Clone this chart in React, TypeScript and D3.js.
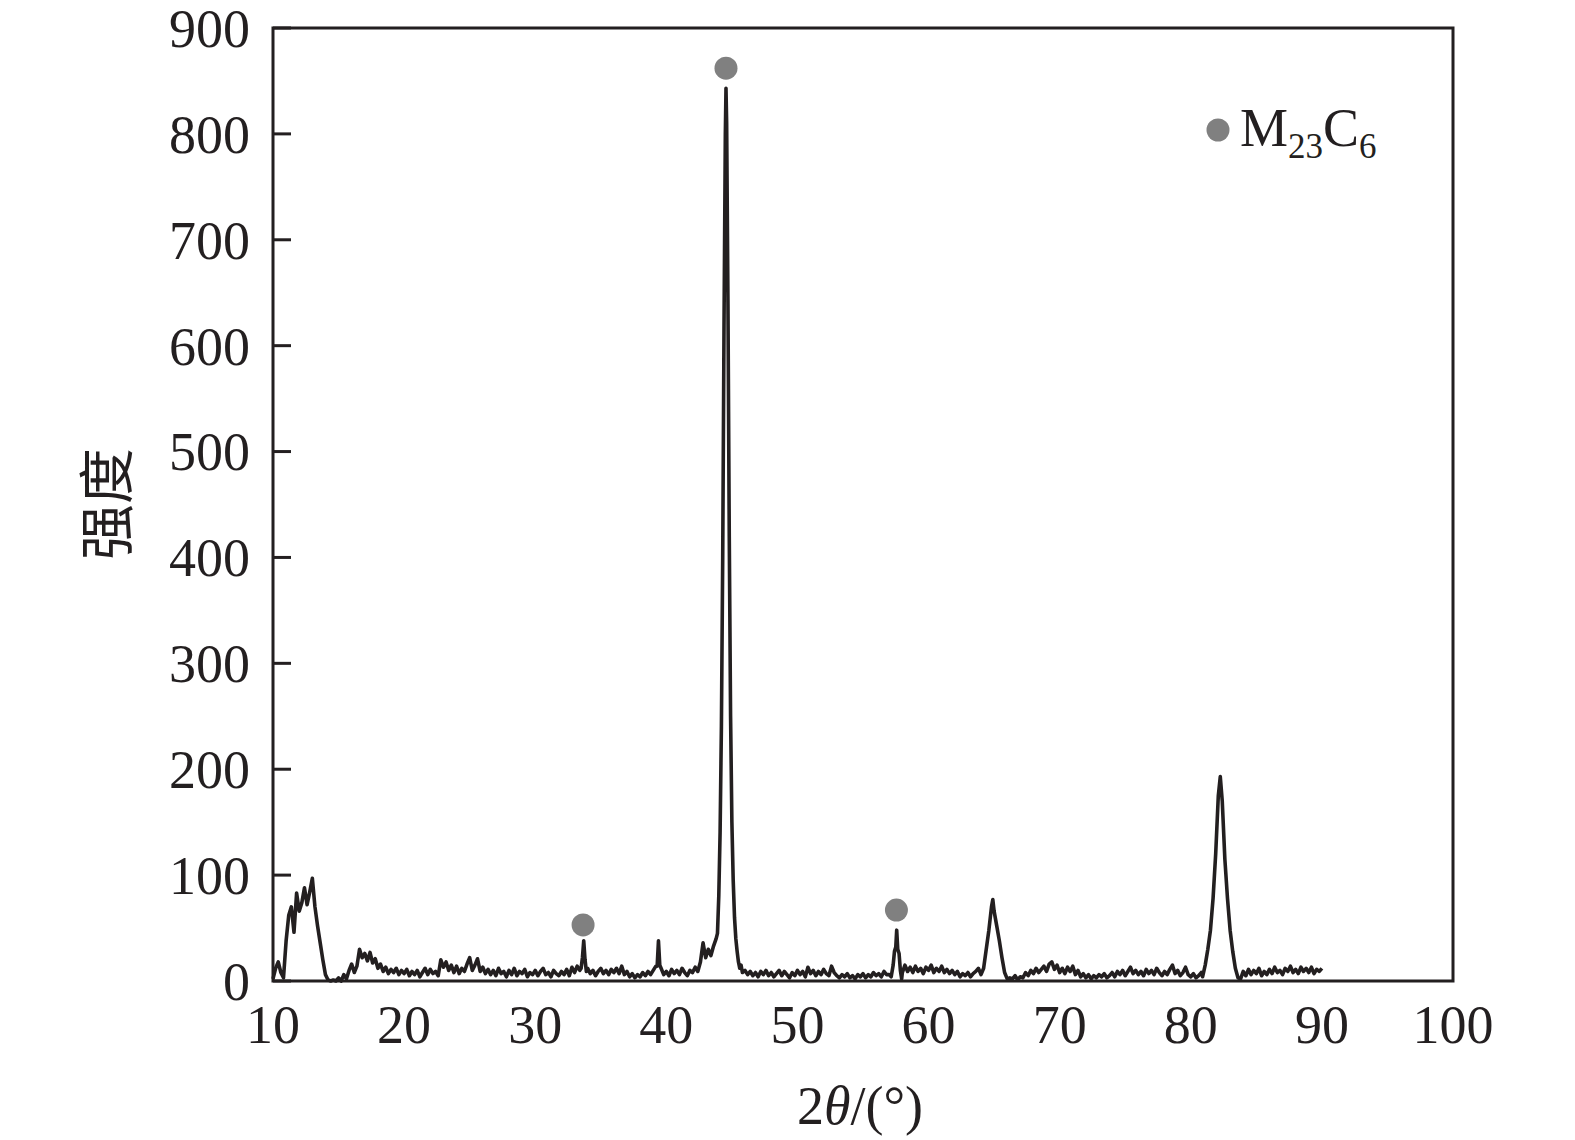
import React from "react";
import * as d3 from "d3";

// Baseline pattern sampled every 0.2° from 10.0° to 90.0°
const baseStart = 10;
const baseStep = 0.2;
const baseIntensity: number[] = [
  2, 12, 18, 8, 3, // 10
  38, 62, 70, 46, 83, // 11
  66, 74, 88, 72, 84, // 12
  97, 70, 52, 36, 20, // 13
  6, 1, 0, 1, 0, // 14
  3, 0, 6, 2, 10, // 15
  16, 8, 14, 30, 22, // 16
  26, 19, 27, 17, 21, // 17
  12, 16, 9, 13, 7, // 18
  11, 8, 12, 6, 10, // 19
  7, 11, 5, 9, 6, // 20
  10, 4, 8, 12, 6, // 21
  11, 7, 9, 5, 20, // 22
  13, 18, 10, 15, 8, // 23
  14, 7, 12, 9, 16, // 24
  22, 10, 15, 21, 9, // 25
  13, 7, 11, 6, 10, // 26
  5, 12, 7, 9, 4, // 27
  10, 6, 12, 5, 9, // 28
  7, 11, 4, 8, 6, // 29
  10, 5, 9, 12, 6, // 30
  8, 4, 10, 7, 5, // 31
  9, 6, 11, 5, 13, // 32
  8, 14, 10, 30, 20, // 33
  12, 7, 10, 5, 9, // 34
  12, 7, 10, 6, 11, // 35
  8, 12, 7, 14, 6, // 36
  9, 4, 7, 3, 6, // 37
  4, 8, 5, 9, 6, // 38
  10, 14, 38, 12, 6, // 39
  9, 5, 11, 7, 10, // 40
  6, 12, 8, 5, 10, // 41
  8, 13, 9, 18, 36, // 42
  22, 30, 24, 33, 40, // 43
  80, 400, 843, 240, 95, // 44 (replaced by detail)
  60, 28, 12, 8, 8, // 45 (replaced by detail)
  10, 6, 9, 5, 8, // 46
  4, 9, 6, 10, 5, // 47
  8, 4, 7, 10, 5, // 48
  9, 6, 3, 8, 5, // 49
  10, 6, 9, 4, 13, // 50
  7, 10, 5, 9, 6, // 51
  11, 7, 5, 14, 8, // 52
  5, 3, 6, 4, 7, // 53
  3, 5, 2, 6, 4, // 54
  7, 3, 6, 4, 8, // 55
  5, 7, 4, 9, 6, // 56
  6, 14, 28, 48, 26, // 57 (replaced by detail)
  8, 15, 9, 13, 8, // 58
  14, 9, 12, 7, 13, // 59
  10, 15, 8, 12, 9, // 60
  14, 8, 11, 7, 10, // 61
  6, 9, 4, 7, 5, // 62
  8, 4, 7, 9, 12, // 63
  6, 12, 30, 48, 70, // 64 (replaced by detail)
  66, 52, 38, 22, 8, // 65 (replaced by detail)
  2, 3, 2, 5, 1, // 66
  4, 3, 8, 5, 10, // 67
  7, 12, 8, 11, 14, // 68
  9, 16, 18, 11, 15, // 69
  8, 12, 7, 13, 9, // 70
  14, 6, 10, 4, 7, // 71
  3, 6, 2, 5, 3, // 72
  6, 4, 7, 3, 5, // 73
  8, 4, 9, 6, 10, // 74
  5, 9, 13, 7, 10, // 75
  6, 9, 5, 11, 7, // 76
  10, 6, 12, 8, 5, // 77
  9, 6, 11, 15, 7, // 78
  10, 5, 8, 13, 6, // 79
  4, 7, 3, 5, 8, // 80
  10, 30, 48, 78, 120, // 81 (replaced by detail)
  175, 193, 170, 115, 78, // 82 (replaced by detail)
  48, 28, 12, 3, 2, // 83
  9, 5, 11, 6, 10, // 84
  7, 12, 5, 9, 6, // 85
  11, 7, 13, 8, 10, // 86
  6, 12, 9, 14, 8, // 87
  11, 7, 13, 9, 12, // 88
  8, 13, 7, 11, 9, // 89
  12, // 90
];

// Finer detail around the diffraction peaks: [2θ, intensity]
const peak33: [number, number][] = [[33.5, 12], [33.6, 22], [33.7, 38], [33.8, 20], [33.9, 9]];
const peak39: [number, number][] = [[39.3, 14], [39.4, 38], [39.5, 15]];
const peak44: [number, number][] = [
  [43.9, 45], [44.0, 80], [44.1, 140], [44.2, 240], [44.3, 400], [44.4, 620], [44.5, 800],
  [44.55, 843], [44.6, 810], [44.7, 640], [44.8, 420], [44.9, 250], [45.0, 150], [45.1, 95],
  [45.2, 60], [45.3, 40], [45.4, 28], [45.5, 18], [45.6, 12], [45.7, 15], [45.8, 8],
];
const peak57: [number, number][] = [
  [57.0, 6], [57.15, 4], [57.3, 15], [57.4, 28], [57.5, 32], [57.57, 48], [57.65, 30],
  [57.75, 26], [57.85, 10], [57.95, 2],
];
const peak65: [number, number][] = [
  [64.0, 6], [64.2, 12], [64.4, 30], [64.6, 48], [64.8, 70], [64.9, 77], [65.0, 66],
  [65.2, 52], [65.4, 38], [65.6, 22], [65.8, 8], [66.0, 2],
];
const peak82: [number, number][] = [
  [80.9, 4], [81.1, 15], [81.3, 30], [81.5, 48], [81.7, 78], [81.9, 120], [82.1, 175],
  [82.25, 193], [82.4, 170], [82.6, 115], [82.8, 78], [83.0, 48], [83.2, 28], [83.4, 12], [83.6, 3],
];
const peakDetails = [peak33, peak39, peak44, peak57, peak65, peak82];

// M23C6 markers [2θ, intensity position]
const markers: [number, number][] = [[33.65, 53], [44.55, 862], [57.55, 67]];

const xTicks = [10, 20, 30, 40, 50, 60, 70, 80, 90, 100];
const yTicks = [0, 100, 200, 300, 400, 500, 600, 700, 800, 900];

const W = 1575;
const H = 1140;
const M = { left: 273, right: 1453, top: 28, bottom: 981 };
const FONT = "'Liberation Serif', 'Times New Roman', serif";
const CJK = "'Noto Sans CJK SC', sans-serif";
const LINE = "#231f20";
const GRAY = "#808080";
const FS = 54;

export default function App() {
  const x = d3.scaleLinear().domain([10, 100]).range([M.left, M.right]);
  const y = d3.scaleLinear().domain([0, 900]).range([M.bottom, M.top]);

  const pts: [number, number][] = [];
  baseIntensity.forEach((v, i) => {
    const xv = +(baseStart + i * baseStep).toFixed(2);
    const inside = peakDetails.some((p) => xv >= p[0][0] - 1e-6 && xv <= p[p.length - 1][0] + 1e-6);
    if (!inside) pts.push([xv, v]);
  });
  peakDetails.forEach((p) => p.forEach((d) => pts.push(d)));
  pts.sort((a, b) => a[0] - b[0]);

  const line = d3
    .line<[number, number]>()
    .x((d) => x(d[0]))
    .y((d) => y(d[1]));

  return (
    <svg width={W} height={H} style={{ position: "absolute", left: 0, top: 0, background: "#fff" }}>
      <path d={line(pts) || ""} fill="none" stroke={LINE} strokeWidth={3.6} strokeLinejoin="round" />
      {markers.map((m, i) => (
        <circle key={i} cx={x(m[0])} cy={y(m[1])} r={11.5} fill={GRAY} />
      ))}
      <rect
        x={M.left}
        y={M.top}
        width={M.right - M.left}
        height={M.bottom - M.top}
        fill="none"
        stroke={LINE}
        strokeWidth={3}
      />
      {yTicks.map((t) => (
        <g key={t}>
          <line x1={M.left} x2={M.left + 18} y1={y(t)} y2={y(t)} stroke={LINE} strokeWidth={3} />
          <text x={250} y={y(t)} dy="0.35em" textAnchor="end" fontFamily={FONT} fontSize={FS} fill={LINE}>
            {t}
          </text>
        </g>
      ))}
      {xTicks.map((t) => (
        <text key={t} x={x(t)} y={1043} textAnchor="middle" fontFamily={FONT} fontSize={FS} fill={LINE}>
          {t}
        </text>
      ))}
      <text x={860} y={1124} textAnchor="middle" fontFamily={FONT} fontSize={FS} fill={LINE}>
        2<tspan fontStyle="italic">θ</tspan>/(°)
      </text>
      <text
        transform="translate(107,504) rotate(-90)"
        textAnchor="middle"
        dy="0.35em"
        fontFamily={CJK}
        fontSize={56}
        fill={LINE}
      >
        强度
      </text>
      <circle cx={1218} cy={130} r={11.5} fill={GRAY} />
      <text x={1240} y={146} fontFamily={FONT} fontSize={FS} fill={LINE}>
        M
        <tspan fontSize={35} dy={12}>23</tspan>
        <tspan fontSize={FS} dy={-12}>C</tspan>
        <tspan fontSize={35} dy={12}>6</tspan>
      </text>
    </svg>
  );
}
